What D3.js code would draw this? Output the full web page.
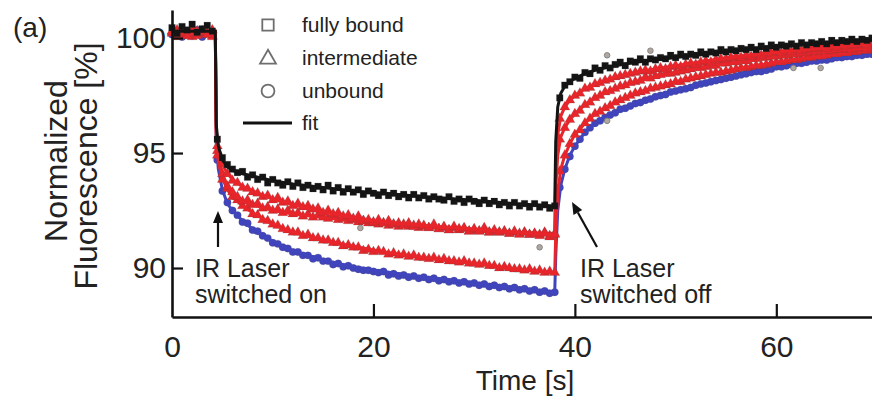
<!DOCTYPE html>
<html><head><meta charset="utf-8">
<script src="https://cdn.jsdelivr.net/npm/d3@7/dist/d3.min.js"></script>
<style>
html,body{margin:0;padding:0;background:#fff;}
svg{display:block;font-family:"Liberation Sans",Arial,sans-serif;}
</style></head>
<body><svg id="c" width="872" height="397"></svg>
<script>
// ---------- data ----------
const dataTimes = d3.range(0, 70, 0.5); // 0, 0.5, ... 69.5 sample times (s)

const blackData = [
100.45,100.20,100.50,100.35,100.60,100.25,100.40,100.55,100.30,95.60,
94.80,94.50,94.30,94.15,94.20,93.95,94.05,93.85,93.95,93.70,
93.85,93.70,93.60,93.75,93.55,93.70,93.50,93.60,93.45,93.55,
93.40,93.60,93.35,93.50,93.30,93.45,93.30,93.40,93.20,93.35,
93.25,93.15,93.30,93.15,93.25,93.10,93.20,93.05,93.20,93.05,
93.15,93.00,93.10,93.00,92.95,93.10,92.90,93.00,92.85,93.00,
92.90,92.80,92.95,92.80,92.90,92.75,92.85,92.70,92.85,92.70,
92.80,92.65,92.80,92.65,92.75,92.60,92.70,97.40,97.95,98.10,
98.30,98.25,98.50,98.45,98.70,98.60,98.80,98.70,98.85,98.95,
98.80,99.00,98.95,99.10,98.95,99.10,99.05,99.15,99.10,99.25,
99.15,99.30,99.20,99.30,99.25,99.40,99.30,99.40,99.35,99.50,
99.40,99.50,99.45,99.55,99.50,99.60,99.50,99.65,99.55,99.70,
99.60,99.70,99.65,99.75,99.65,99.80,99.70,99.80,99.75,99.85,
99.75,99.90,99.80,99.90,99.85,99.95,99.85,99.95,99.90,100.00];

const red1Data = [
100.30,100.15,100.35,100.10,100.40,100.20,100.30,100.15,100.35,95.30,
94.55,94.10,93.80,93.70,93.50,93.45,93.30,93.25,93.10,93.15,
92.95,93.05,92.85,92.90,92.70,92.80,92.65,92.70,92.55,92.60,
92.40,92.50,92.35,92.40,92.25,92.30,92.15,92.25,92.05,92.10,
92.00,92.10,91.95,92.05,91.90,91.95,91.85,91.95,91.80,91.90,
91.85,91.75,91.90,91.70,91.80,91.65,91.80,91.70,91.75,91.60,
91.70,91.60,91.75,91.55,91.65,91.55,91.60,91.50,91.60,91.45,
91.55,91.45,91.50,91.40,91.50,91.35,91.45,96.50,97.00,97.30,
97.50,97.60,97.80,97.85,98.00,98.05,98.15,98.20,98.30,98.35,
98.40,98.45,98.50,98.55,98.60,98.55,98.65,98.70,98.65,98.75,
98.80,98.75,98.85,98.90,98.85,98.95,99.00,98.95,99.05,99.10,
99.10,99.15,99.20,99.15,99.25,99.20,99.30,99.25,99.35,99.35,
99.40,99.35,99.45,99.40,99.50,99.45,99.50,99.55,99.55,99.60,
99.55,99.65,99.60,99.70,99.65,99.70,99.70,99.75,99.70,99.80];

const red2Data = [
100.25,100.05,100.30,100.15,100.35,100.10,100.25,100.20,100.05,95.10,
94.10,93.55,93.30,93.10,92.90,92.95,92.75,92.80,92.60,92.65,
92.50,92.55,92.40,92.50,92.35,92.40,92.25,92.35,92.20,92.30,
92.20,92.15,92.25,92.10,92.15,92.05,92.10,92.00,92.05,91.95,
91.95,91.90,91.95,91.85,91.90,91.80,91.90,91.80,91.85,91.75,
91.80,91.75,91.80,91.70,91.75,91.65,91.75,91.65,91.70,91.60,
91.65,91.60,91.65,91.55,91.60,91.55,91.60,91.50,91.55,91.50,
91.55,91.45,91.50,91.45,91.55,91.40,91.50,95.60,96.10,96.45,
96.70,96.85,97.10,97.20,97.40,97.50,97.65,97.70,97.80,97.90,
97.95,98.05,98.10,98.15,98.30,98.25,98.35,98.40,98.45,98.45,
98.50,98.55,98.60,98.65,98.70,98.70,98.75,98.80,98.80,98.90,
98.90,98.95,98.95,99.05,99.00,99.10,99.10,99.15,99.15,99.20,
99.20,99.25,99.25,99.30,99.30,99.35,99.35,99.40,99.40,99.45,
99.45,99.45,99.50,99.50,99.55,99.50,99.55,99.60,99.55,99.65];

const red3Data = [
100.20,100.35,100.10,100.25,100.05,100.30,100.15,100.25,100.10,94.90,
93.85,93.45,93.10,92.95,92.70,92.60,92.35,92.30,92.10,92.05,
91.90,91.85,91.70,91.65,91.55,91.55,91.40,91.45,91.30,91.30,
91.20,91.20,91.10,91.10,90.95,91.00,90.90,90.90,90.75,90.80,
90.70,90.75,90.70,90.60,90.65,90.55,90.60,90.50,90.55,90.45,
90.45,90.40,90.45,90.35,90.40,90.30,90.30,90.25,90.30,90.20,
90.20,90.15,90.20,90.10,90.10,90.00,90.05,90.00,89.95,89.95,
89.90,89.95,89.85,89.90,89.80,89.85,89.80,94.20,94.90,95.40,
95.80,96.00,96.30,96.50,96.70,96.80,96.95,97.05,97.20,97.30,
97.40,97.50,97.60,97.65,97.70,97.80,97.85,97.90,97.95,98.00,
98.10,98.10,98.20,98.25,98.30,98.35,98.40,98.45,98.50,98.50,
98.55,98.60,98.65,98.70,98.70,98.75,98.80,98.80,98.85,98.90,
98.95,98.95,99.00,99.05,99.05,99.10,99.15,99.15,99.20,99.20,
99.25,99.30,99.30,99.35,99.35,99.40,99.40,99.45,99.45,99.50];

const blueData = [
100.15,100.30,100.05,100.25,100.10,100.35,100.05,100.20,100.15,94.70,
93.35,92.85,92.50,92.30,92.00,91.95,91.65,91.60,91.40,91.30,
91.10,91.05,90.90,90.85,90.70,90.70,90.55,90.55,90.40,90.45,
90.30,90.30,90.15,90.20,90.05,90.10,90.00,89.95,89.90,89.90,
89.85,89.80,89.85,89.70,89.75,89.65,89.70,89.60,89.65,89.55,
89.60,89.50,89.55,89.45,89.50,89.40,89.45,89.35,89.40,89.30,
89.35,89.25,89.30,89.20,89.25,89.15,89.20,89.10,89.15,89.05,
89.10,89.00,89.05,88.95,89.00,88.90,88.95,93.50,94.30,94.85,
95.30,95.60,95.90,96.10,96.30,96.40,96.55,96.65,96.75,96.90,
96.95,97.05,97.15,97.20,97.30,97.35,97.45,97.50,97.55,97.65,
97.70,97.75,97.80,97.85,97.95,98.00,98.05,98.10,98.15,98.20,
98.25,98.30,98.35,98.40,98.45,98.50,98.55,98.55,98.60,98.65,
98.75,98.75,98.80,98.85,98.90,98.90,98.95,99.00,99.00,99.05,
99.05,99.10,99.15,99.15,99.20,99.20,99.25,99.25,99.30,99.30];

// fit curves
const fitTimes = [0,4.3,4.4,4.6,5,5.5,6,7,8,10,12,15,18,21,25,30,34,38,38.1,38.3,38.6,39,39.5,40,41,42,44,46,48,50,53,56,60,64,68,69.5];
const blackFit = [100.3,100.3,96.2,95.3,94.7,94.4,94.25,94.1,94.0,93.8,93.65,93.5,93.35,93.25,93.1,92.95,92.8,92.7,95.5,97.0,97.6,97.9,98.1,98.25,98.45,98.6,98.8,98.95,99.05,99.15,99.3,99.45,99.6,99.75,99.85,99.9];
const red1Fit  = [100.3,100.3,96.0,95.1,94.5,94.1,93.85,93.55,93.35,93.0,92.75,92.45,92.2,92.0,91.85,91.7,91.55,91.45,94.0,95.8,96.6,97.0,97.3,97.5,97.8,98.0,98.3,98.5,98.65,98.8,99.0,99.2,99.4,99.55,99.7,99.75];
const red2Fit  = [100.2,100.2,95.8,94.9,94.1,93.6,93.3,92.9,92.75,92.5,92.35,92.2,92.05,91.9,91.8,91.65,91.55,91.5,93.5,94.9,95.7,96.1,96.45,96.7,97.1,97.4,97.8,98.1,98.3,98.5,98.75,98.95,99.2,99.4,99.55,99.6];
const red3Fit  = [100.2,100.2,95.6,94.6,93.9,93.4,93.1,92.7,92.4,91.9,91.55,91.2,90.95,90.7,90.45,90.2,89.95,89.8,91.5,93.3,94.3,94.9,95.4,95.8,96.3,96.7,97.2,97.6,97.85,98.1,98.4,98.65,98.95,99.2,99.4,99.5];
const blueFit  = [100.2,100.2,95.4,94.3,93.4,92.8,92.5,92.05,91.7,91.15,90.75,90.35,90.05,89.85,89.6,89.35,89.1,88.95,90.5,92.5,93.6,94.3,94.9,95.3,95.9,96.3,96.75,97.15,97.45,97.7,98.1,98.4,98.75,99.0,99.2,99.3];

// a few stray grey points
const strayTimes  = [18.7, 36.5, 43.2, 43.2, 47.5, 61.7, 64.4];
const strayValues = [91.74, 90.9, 99.25, 96.4, 99.45, 98.7, 98.7];

const xTicks = [0, 20, 40, 60];
const yTicks = [90, 95, 100];
const legendLabels = ["fully bound", "intermediate", "unbound", "fit"];

// ---------- chart ----------
const svg = d3.select("#c");
const x = d3.scaleLinear().domain([0, 69.5]).range([172, 872]);
const y = d3.scaleLinear().domain([87.87, 101.22]).range([317, 10]);

const series = [
  {data: blueData,  fit: blueFit,  color: "#4044bd", shape: d3.symbolCircle},
  {data: red3Data,  fit: red3Fit,  color: "#e8252a", shape: d3.symbolTriangle},
  {data: red2Data,  fit: red2Fit,  color: "#e8252a", shape: d3.symbolTriangle},
  {data: red1Data,  fit: red1Fit,  color: "#e8252a", shape: d3.symbolTriangle},
  {data: blackData, fit: blackFit, color: "#141414", shape: d3.symbolSquare}
];

const line = d3.line().x(d => x(d[0])).y(d => y(d[1]));
const plot = svg.append("g");

series.forEach(s => {
  plot.append("g").selectAll("path")
    .data(dataTimes.map((t, i) => [t, s.data[i]]))
    .join("path")
    .attr("transform", d => `translate(${x(d[0])},${y(d[1])})`)
    .attr("d", d3.symbol().type(s.shape).size(44))
    .attr("fill", s.color)
    .attr("stroke", "rgba(70,70,70,0.3)")
    .attr("stroke-width", 0.6);
  plot.append("path")
    .datum(fitTimes.map((t, i) => [t, s.fit[i]]))
    .attr("d", line)
    .attr("fill", "none")
    .attr("stroke", s.color)
    .attr("stroke-width", 3);
});

plot.append("g").selectAll("circle")
  .data(strayTimes.map((t, i) => [t, strayValues[i]]))
  .join("circle")
  .attr("cx", d => x(d[0])).attr("cy", d => y(d[1])).attr("r", 2.8)
  .attr("fill", "#b0a8a0").attr("stroke", "#777").attr("stroke-width", 0.8);

// axes
const yAxis = svg.append("g").attr("transform", "translate(172,0)")
  .call(d3.axisLeft(y).tickValues(yTicks).tickSizeInner(-11).tickSizeOuter(0).tickPadding(6));
const xAxis = svg.append("g").attr("transform", "translate(0,317)")
  .call(d3.axisBottom(x).tickValues(xTicks).tickSizeInner(-13).tickSizeOuter(0).tickPadding(19));
[yAxis, xAxis].forEach(a => {
  a.select(".domain").attr("stroke", "#111").attr("stroke-width", 2.6);
  a.selectAll(".tick line").attr("stroke", "#111").attr("stroke-width", 2.2);
  a.selectAll(".tick text").attr("fill", "#222").style("font-size", "30px")
    .style("font-family", "'Liberation Sans', Arial, sans-serif");
});
xAxis.selectAll(".tick").filter(d => d === 0).select("line").remove();

// axis titles
svg.append("text").attr("x", 525).attr("y", 390).attr("text-anchor", "middle")
  .style("font-size", "28px").attr("fill", "#222").text("Time [s]");
svg.append("text").attr("transform", "translate(67,161) rotate(-90)").attr("text-anchor", "middle")
  .style("font-size", "32px").attr("fill", "#222").text("Normalized");
svg.append("text").attr("transform", "translate(97,166) rotate(-90)").attr("text-anchor", "middle")
  .style("font-size", "32px").attr("fill", "#222").text("Fluorescence [%]");

svg.append("text").attr("x", 13).attr("y", 37).style("font-size", "28px").attr("fill", "#222").text("(a)");

// legend
const leg = svg.append("g");
const rowsY = [25, 58, 91, 123];
const gray = "#6e6e6e";
leg.append("path").attr("transform", `translate(268,${rowsY[0]})`)
  .attr("d", d3.symbol().type(d3.symbolSquare).size(130)).attr("fill", "none").attr("stroke", gray).attr("stroke-width", 1.8);
leg.append("path").attr("transform", `translate(268,${rowsY[1]+1})`)
  .attr("d", d3.symbol().type(d3.symbolTriangle).size(110)).attr("fill", "none").attr("stroke", gray).attr("stroke-width", 1.8);
leg.append("path").attr("transform", `translate(268,${rowsY[2]})`)
  .attr("d", d3.symbol().type(d3.symbolCircle).size(130)).attr("fill", "none").attr("stroke", gray).attr("stroke-width", 1.8);
leg.append("line").attr("x1", 243).attr("x2", 292).attr("y1", rowsY[3]).attr("y2", rowsY[3])
  .attr("stroke", "#111").attr("stroke-width", 3);
legendLabels.forEach((t, i) => {
  leg.append("text").attr("x", 302).attr("y", rowsY[i]).attr("dy", "0.35em")
    .style("font-size", "21px").attr("fill", "#222").text(t);
});

// annotations
function arrow(x1, y1, x2, y2) {
  const ang = Math.atan2(y2 - y1, x2 - x1), L = 12, W = 5;
  const bx = x2 - L * Math.cos(ang), by = y2 - L * Math.sin(ang);
  svg.append("line").attr("x1", x1).attr("y1", y1).attr("x2", bx).attr("y2", by)
    .attr("stroke", "#111").attr("stroke-width", 2.2);
  svg.append("path").attr("d",
    `M${x2},${y2}L${bx + W * Math.sin(ang)},${by - W * Math.cos(ang)}L${bx - W * Math.sin(ang)},${by + W * Math.cos(ang)}Z`)
    .attr("fill", "#111");
}
arrow(218, 247, 218, 211);
arrow(597, 247, 572, 202);

const ann = [[195, 277, "IR Laser"], [195, 303, "switched on"], [580, 277, "IR Laser"], [580, 303, "switched off"]];
ann.forEach(a => svg.append("text").attr("x", a[0]).attr("y", a[1])
  .style("font-size", "25px").attr("fill", "#222").text(a[2]));
</script>
</body></html>
